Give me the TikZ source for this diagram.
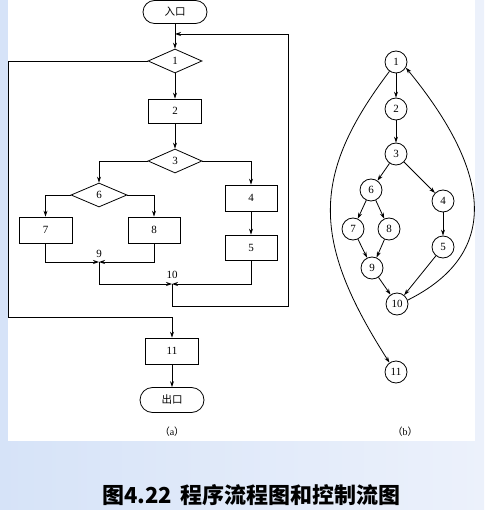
\documentclass[tikz,border=0pt]{standalone}
\usepackage{fontspec}
\setmainfont{Liberation Serif}
\newfontfamily\cjk{Noto Sans CJK SC}
\usetikzlibrary{shapes.geometric,arrows.meta}
\definecolor{bgl}{RGB}{214,227,248}
\definecolor{bgr}{RGB}{236,241,251}
\begin{document}
\begin{tikzpicture}[x=1pt,y=-1pt,line width=0.8pt,
  lbl/.style={font=\fontsize{11}{11}\selectfont, inner sep=0pt},
  box/.style={draw, rectangle, minimum width=53pt, minimum height=25pt, inner sep=0pt, lbl},
  dia/.style={draw, diamond, minimum width=54pt, minimum height=24pt, inner sep=0pt, lbl},
  term/.style={draw, rounded corners=11.5pt, minimum width=64pt, minimum height=23pt, inner sep=0pt, font=\cjk\fontsize{10.5}{10.5}\selectfont},
  cn/.style={draw, circle, minimum size=22pt, inner sep=0pt, lbl},
  arr/.style={-{Stealth[length=6pt,width=4pt]}}]
\useasboundingbox (0,0) rectangle (484,510);
\shade[left color=bgl, right color=bgr] (0,0) rectangle (484,510);
\fill[white] (8,0) rectangle (475,441);

% ---- (a) flowchart
\node[term] (in) at (175,12) {入口};
\node[dia] (d1) at (175,61) {1};
\node[box, minimum height=24pt] (b2) at (175,111) {2};
\node[dia] (d3) at (175,161) {3};
\node[dia, minimum width=56pt] (d6) at (99,195) {6};
\node[box, minimum width=52pt, minimum height=26pt] (b4) at (251,198) {4};
\node[box, minimum height=26pt] (b7) at (45.5,230) {7};
\node[box, minimum width=52pt, minimum height=26pt] (b8) at (154,230) {8};
\node[box, minimum width=52pt] (b5) at (251,247.5) {5};
\node[box, minimum height=26pt] (b11) at (172,351) {11};
\node[term, minimum height=25pt, rounded corners=12.5pt] (out) at (172,400) {出口};

\coordinate (j9) at (99,262);
\coordinate (j10) at (172,284);
\coordinate (top) at (175,34);
\coordinate (lr) at (288,306);
\coordinate (ll) at (8.6,317);
\node[lbl] (l9) at (99,254) {9};
\node[lbl] (l10) at (172,275) {10};

\draw[arr] (in) -- (d1);
\draw[arr] (d1) -- (b2);
\draw[arr] (b2) -- (d3);
\draw[arr] (d3.west) -| (d6.north);
\draw[arr] (d3.east) -| (b4.north);
\draw[arr] (d6.west) -| (b7.north);
\draw[arr] (d6.east) -| (b8.north);
\draw[arr] (b4) -- (b5);
\draw[arr] (b7.south) |- (j9);
\draw[arr] (b8.south) |- (j9);
\draw[arr] (j9) |- (j10);
\draw[arr] (b5.south) |- (j10);
\draw[arr] (j10) |- (lr) |- (top);
\draw[arr] (d1.west) -| (ll) -| (b11.north);
\draw[arr] (b11) -- (out);

\node[lbl, font=\fontsize{10}{10}\selectfont] (capa) at (172,432) {{\cjk （}a{\cjk ）}};

% ---- (b) control flow graph
\node[cn] (n1) at (396,62) {1};
\node[cn] (n2) at (396,109) {2};
\node[cn] (n3) at (396,154) {3};
\node[cn] (n6) at (371,190) {6};
\node[cn] (n4) at (443,201) {4};
\node[cn] (n7) at (353,229) {7};
\node[cn] (n8) at (389,229) {8};
\node[cn] (n5) at (443,247) {5};
\node[cn] (n9) at (372,268) {9};
\node[cn] (n10) at (397,304) {10};
\node[cn] (n11) at (396,372) {11};

\draw[arr] (n1) -- (n2);
\draw[arr] (n2) -- (n3);
\draw[arr] (n3) -- (n6);
\draw[arr] (n3) -- (n4);
\draw[arr] (n6) -- (n7);
\draw[arr] (n6) -- (n8);
\draw[arr] (n7) -- (n9);
\draw[arr] (n8) -- (n9);
\draw[arr] (n4) -- (n5);
\draw[arr] (n9) -- (n10);
\draw[arr] (n5) -- (n10);
\draw[arr] (n10.20) .. controls (500,254) and (493,174) .. (n1.-30);
\draw[arr] (n1.235) .. controls (311,175) and (311,240) .. (n11.125);

\node[lbl, font=\fontsize{10}{10}\selectfont] (capb) at (405,432) {{\cjk （}b{\cjk ）}};

% ---- title
\node[anchor=west, inner sep=0pt, font=\cjk\bfseries\fontsize{22}{22}\selectfont] (title) at (102,495) {图4.22\hspace{8pt}程序流程图和控制流图};
\end{tikzpicture}
\end{document}
